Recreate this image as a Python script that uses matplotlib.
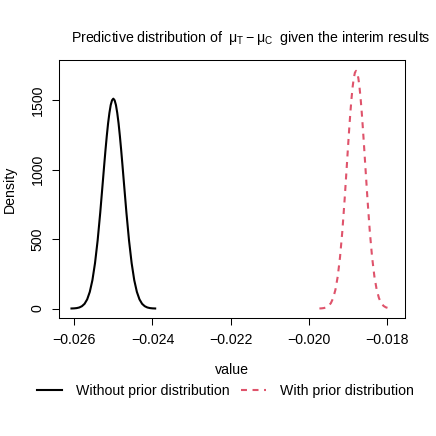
import matplotlib
matplotlib.use("Agg")
import matplotlib.pyplot as plt

plt.rcParams['font.family'] = ['Liberation Sans', 'DejaVu Sans']
plt.rcParams['mathtext.fontset'] = 'custom'
plt.rcParams['mathtext.rm'] = 'Liberation Sans'
plt.rcParams['mathtext.it'] = 'Liberation Sans'
plt.rcParams['lines.scale_dashes'] = False

# density curve without prior
x_without = [-0.0260688, -0.0260020, -0.0259352, -0.0258684, -0.0258016, -0.0257348,
             -0.0256680, -0.0256012, -0.0255344, -0.0254676, -0.0254008, -0.0253340,
             -0.0252672, -0.0252338, -0.0252004, -0.0251670, -0.0251336, -0.0251002,
             -0.0250668, -0.0250334, -0.0250000, -0.0249666, -0.0249332, -0.0248998,
             -0.0248664, -0.0248330, -0.0247996, -0.0247662, -0.0247328, -0.0246660,
             -0.0245992, -0.0245324, -0.0244656, -0.0243988, -0.0243320, -0.0242652,
             -0.0241984, -0.0241316, -0.0240648, -0.0239980, -0.0239312]
d_without = [0.5, 1.3, 3.3, 7.7, 17, 34, 66, 120, 204, 327, 490, 691,
             916, 1030, 1140, 1242, 1333, 1407, 1464, 1498, 1510, 1498, 1464, 1407,
             1333, 1242, 1140, 1030, 916,
             691, 490, 327, 204, 120, 66, 34, 17, 7.7, 3.3, 1.3, 0.5]

# density curve with prior
x_with = [-0.0197360, -0.0196775, -0.0196190, -0.0195605, -0.0195020, -0.0194435,
          -0.0193850, -0.0193265, -0.0192680, -0.0192095, -0.0191510, -0.0190925,
          -0.0190340, -0.0190048, -0.0189755, -0.0189463, -0.0189170, -0.0188878,
          -0.0188585, -0.0188293, -0.0188000, -0.0187708, -0.0187415, -0.0187123,
          -0.0186830, -0.0186538, -0.0186245, -0.0185953, -0.0185660, -0.0185075,
          -0.0184490, -0.0183905, -0.0183320, -0.0182735, -0.0182150, -0.0181565,
          -0.0180980, -0.0180395, -0.0179810, -0.0179225, -0.0178640]
d_with = [0.6, 1.5, 3.7, 8.7, 19, 39, 75, 136, 231, 370, 555, 783,
          1037, 1166, 1291, 1407, 1509, 1594, 1657, 1697, 1710, 1697, 1657, 1594,
          1509, 1407, 1291, 1166, 1037,
          783, 555, 370, 231, 136, 75, 39, 19, 8.7, 3.7, 1.5, 0.6]

x_ticks = [-0.026, -0.024, -0.022, -0.020, -0.018]
x_ticklabels = ["\u22120.026", "\u22120.024", "\u22120.022", "\u22120.020", "\u22120.018"]
y_ticks = [0, 500, 1000, 1500]

fs = 10.2

fig = plt.figure(figsize=(4.36, 4.36), dpi=100)
ax = fig.add_axes([59.3 / 436, 1 - 318 / 436, (405 - 59.3) / 436, (318 - 60) / 436])

ax.plot(x_without, d_without, color="black", lw=1.5, solid_joinstyle="round",
        label="Without prior distribution")
ax.plot(x_with, d_with, color="#DF536B", lw=1.5, dashes=(4.3, 4),
        label="With prior distribution")

ax.set_xlim(-0.02638, -0.01755)
ax.set_ylim(-68, 1788)
ax.set_xticks(x_ticks)
ax.set_xticklabels(x_ticklabels)
ax.set_yticks(y_ticks)
ax.set_yticklabels([str(v) for v in y_ticks], rotation=90, va="center")
ax.tick_params(length=5, width=0.75, labelsize=fs, pad=5.5)
for s in ax.spines.values():
    s.set_linewidth(0.75)

fig.text(10 / 436, 1 - 189 / 436, "Density", rotation=90, ha="center", va="center", fontsize=fs)
fig.text(232 / 436, 1 - 370 / 436, "value", ha="center", va="center", fontsize=fs)
fig.text(251 / 436, 1 - 38 / 436,
         r"Predictive distribution of  $\mu_{\mathrm{T}} - \mu_{\mathrm{C}}$  given the interim results",
         ha="center", va="center", fontsize=fs)

fig.legend(loc="center", bbox_to_anchor=(225.5 / 436, 1 - 391 / 436), ncol=2, frameon=False,
           fontsize=fs, handlelength=1.75, handletextpad=1.0, columnspacing=0.85)

fig.savefig("out.png", dpi=100)
